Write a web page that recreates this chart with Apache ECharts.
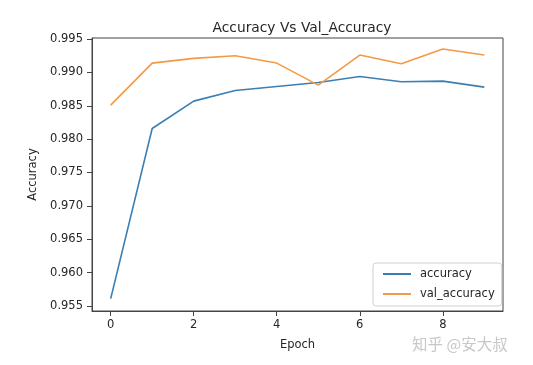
<!DOCTYPE html>
<html><head><meta charset="utf-8">
<script src="https://cdn.jsdelivr.net/npm/echarts@6/dist/echarts.min.js"></script>
<style>html,body{margin:0;padding:0;background:#fff}#c{width:533px;height:365px}</style>
</head><body><div id="c"></div>
<script>
const epochs = [0,1,2,3,4,5,6,7,8,9];
const accuracy = [0.9561,0.9816,0.9857,0.9873,0.9879,0.9885,0.9894,0.9886,0.9887,0.9878];
const valAccuracy = [0.9851,0.9914,0.9921,0.9925,0.9914,0.9881,0.9926,0.9913,0.9935,0.9926];
const xTicks = [0,2,4,6,8];
const yTicks = [0.955,0.960,0.965,0.970,0.975,0.980,0.985,0.990,0.995];
const fontFam = 'DejaVu Sans';
const txt = '#262626';
const blue = '#3a7fb3', orange = '#f39a45';
const chart = echarts.init(document.getElementById('c'), null, {renderer:'canvas'});
chart.setOption({
  animation:false,
  backgroundColor:'#fff',
  title:{text:'Accuracy Vs Val_Accuracy', left:297, top:16, textAlign:'center',
    textStyle:{fontFamily:fontFam, fontSize:13.8, fontWeight:'normal', color:txt}},
  grid:{left:92, right:30, top:38, bottom:54, show:true, borderColor:'#444', borderWidth:1, backgroundColor:'transparent'},
  legend:{orient:'vertical', left:373, top:263, icon:'rect', itemWidth:28, itemHeight:2, itemGap:6,
    padding:[4,7,5,10], borderColor:'#d0d0d0', borderWidth:1, borderRadius:3, backgroundColor:'#fff',
    textStyle:{fontFamily:fontFam, fontSize:11.5, color:txt, padding:[0,0,0,4], lineHeight:14},
    data:['accuracy','val_accuracy']},
  xAxis:{type:'value', min:-0.45, max:9.45, name:'Epoch', nameLocation:'middle', nameGap:28,
    nameTextStyle:{fontFamily:fontFam, fontSize:11.5, color:txt},
    axisLine:{show:true, onZero:false, lineStyle:{color:'#444'}}, splitLine:{show:false},
    axisTick:{show:true, inside:false, length:5, customValues:xTicks, lineStyle:{color:'#444', width:1}},
    axisLabel:{customValues:xTicks, margin:8, fontFamily:fontFam, fontSize:11.5, color:txt}},
  yAxis:{type:'value', min:0.95424, max:0.99516, name:'Accuracy', nameLocation:'middle', nameGap:45,
    nameTextStyle:{fontFamily:fontFam, fontSize:11.5, color:txt},
    axisLine:{show:true, onZero:false, lineStyle:{color:'#444'}}, splitLine:{show:false},
    axisTick:{show:true, inside:false, length:5, customValues:yTicks, lineStyle:{color:'#444', width:1}},
    axisLabel:{customValues:yTicks, margin:9, fontFamily:fontFam, fontSize:11.5, color:txt,
      formatter:v=>v.toFixed(3)}},
  series:[
    {name:'accuracy', type:'line', symbol:'none', data:epochs.map((e,i)=>[e,accuracy[i]]),
      lineStyle:{width:1.6, color:blue}, itemStyle:{color:blue}},
    {name:'val_accuracy', type:'line', symbol:'none', data:epochs.map((e,i)=>[e,valAccuracy[i]]),
      lineStyle:{width:1.6, color:orange}, itemStyle:{color:orange}}
  ],
  graphic:[{type:'text', left:412, top:336, style:{text:'知乎 @安大叔', fontFamily:'Noto Sans CJK SC', fontSize:15.5, fill:'#c8c8c8'}}]
});
</script></body></html>
